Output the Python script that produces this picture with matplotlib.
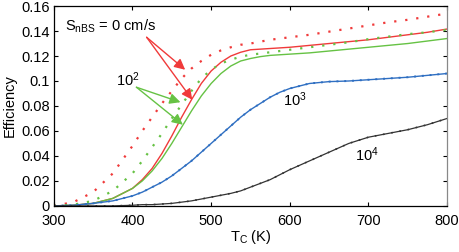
import matplotlib
matplotlib.use("Agg")
import matplotlib.pyplot as plt
from matplotlib.ticker import FuncFormatter

plt.rcParams['font.family'] = ['Liberation Sans', 'DejaVu Sans']
plt.rcParams['mathtext.fontset'] = 'custom'
plt.rcParams['mathtext.rm'] = 'Liberation Sans'
plt.rcParams['mathtext.it'] = 'Liberation Sans'

T = [300, 325, 350, 375, 400, 412.5, 425, 437.5, 450, 462.5, 475, 487.5, 500,
     512.5, 525, 537.5, 550, 562.5, 575, 587.5, 600,
     625, 650, 675, 700, 725, 750, 775, 800]

red_dotted = [0.000, 0.003, 0.011, 0.026, 0.048, 0.060, 0.071, 0.082, 0.092, 0.102, 0.110, 0.116, 0.121,
              0.1245, 0.127, 0.129, 0.130, 0.1315, 0.133, 0.134, 0.135,
              0.137, 0.1395, 0.142, 0.1445, 0.147, 0.149, 0.1515, 0.154]
red_solid = [0.000, 0.0005, 0.002, 0.006, 0.014, 0.021, 0.030, 0.042, 0.056, 0.071, 0.085, 0.098, 0.108,
             0.115, 0.120, 0.123, 0.125, 0.1255, 0.126, 0.1265, 0.127,
             0.1285, 0.130, 0.1315, 0.133, 0.135, 0.137, 0.139, 0.1416]
green_dotted = [0.000, 0.001, 0.004, 0.012, 0.026, 0.036, 0.047, 0.058, 0.070, 0.081, 0.092, 0.102, 0.109,
                0.114, 0.117, 0.1195, 0.121, 0.122, 0.123, 0.124, 0.125,
                0.127, 0.129, 0.131, 0.1335, 0.1355, 0.1375, 0.139, 0.141]
green_solid = [0.000, 0.0005, 0.002, 0.006, 0.014, 0.020, 0.028, 0.038, 0.050, 0.063, 0.076, 0.088, 0.098,
               0.106, 0.112, 0.116, 0.118, 0.1195, 0.1205, 0.121, 0.1215,
               0.1225, 0.124, 0.1255, 0.127, 0.1285, 0.130, 0.132, 0.134]
blue = [0.000, 0.0005, 0.002, 0.004, 0.008, 0.011, 0.015, 0.019, 0.024, 0.030, 0.036, 0.043, 0.050,
        0.057, 0.064, 0.071, 0.077, 0.082, 0.087, 0.091, 0.094,
        0.098, 0.0995, 0.100, 0.101, 0.102, 0.103, 0.1045, 0.106]
black = [0.000, 0.000, 0.000, 0.000, 0.0005, 0.001, 0.001, 0.0015, 0.002, 0.003, 0.004, 0.0055, 0.007,
         0.0085, 0.010, 0.012, 0.015, 0.018, 0.021, 0.025, 0.029,
         0.036, 0.043, 0.050, 0.055, 0.058, 0.061, 0.065, 0.070]

x_ticks = [300, 400, 500, 600, 700, 800]
y_ticks = [0, 0.02, 0.04, 0.06, 0.08, 0.1, 0.12, 0.14, 0.16]

RED = '#f03a3a'
GREEN = '#66c244'
BLUE = '#2f6fc2'
BLACK = '#333333'

fig = plt.figure(figsize=(4.6, 2.52), dpi=100)
ax = fig.add_axes([0.117, 0.183, 0.855, 0.793])

ax.plot(T, red_dotted, color=RED, lw=1.6, linestyle=(0, (1, 4)))
ax.plot(T, red_solid, color=RED, lw=1.0)
ax.plot(T, green_dotted, color=GREEN, lw=1.6, linestyle=(0, (1, 4)))
ax.plot(T, green_solid, color=GREEN, lw=1.0)
ax.plot(T, blue, color=BLUE, lw=1.0)
ax.plot(T, blue, color=BLUE, lw=1.4, linestyle=(0, (1, 3)))
ax.plot(T, black, color=BLACK, lw=0.9)
ax.plot(T, black, color=BLACK, lw=1.2, linestyle=(0, (1, 4)))

ax.set_xlim(300, 800)
ax.set_ylim(0, 0.16)
ax.set_xticks(x_ticks)
ax.set_yticks(y_ticks)
ax.yaxis.set_major_formatter(FuncFormatter(lambda v, p: '%g' % round(v, 3)))
ax.tick_params(direction='in', top=True, right=True, labelsize=10.5, length=3)
ax.tick_params(axis='x', pad=6)
ax.tick_params(axis='y', pad=3)
for s in ax.spines.values():
    s.set_linewidth(0.9)
ax.spines['right'].set_color('#888888')

ax.set_xlabel(r'T$_{\mathrm{C}}$ (K)', fontsize=10.5, labelpad=0)
ax.set_ylabel('Efficiency', fontsize=10.5, labelpad=3)

ax.text(314, 0.144, r'S$_{\mathrm{nBS}}$ = 0 cm/s', fontsize=10.5, va='center', ha='left')
ax.text(394, 0.101, r'10$^{2}$', fontsize=10.5, va='center', ha='center')
ax.text(607, 0.085, r'10$^{3}$', fontsize=10.5, va='center', ha='center')
ax.text(698, 0.041, r'10$^{4}$', fontsize=10.5, va='center', ha='center')

ap_r = dict(arrowstyle='-|>', color=RED, lw=1.0, mutation_scale=16, shrinkA=0, shrinkB=0)
ap_g = dict(arrowstyle='-|>', color=GREEN, lw=1.0, mutation_scale=16, shrinkA=0, shrinkB=0)
ax.annotate('', xy=(467, 0.109), xytext=(418, 0.135), arrowprops=ap_r)
ax.annotate('', xy=(476, 0.085), xytext=(418, 0.135), arrowprops=ap_r)
ax.annotate('', xy=(461, 0.083), xytext=(405, 0.095), arrowprops=ap_g)
ax.annotate('', xy=(464, 0.065), xytext=(405, 0.095), arrowprops=ap_g)

fig.savefig('out.png', dpi=100)
